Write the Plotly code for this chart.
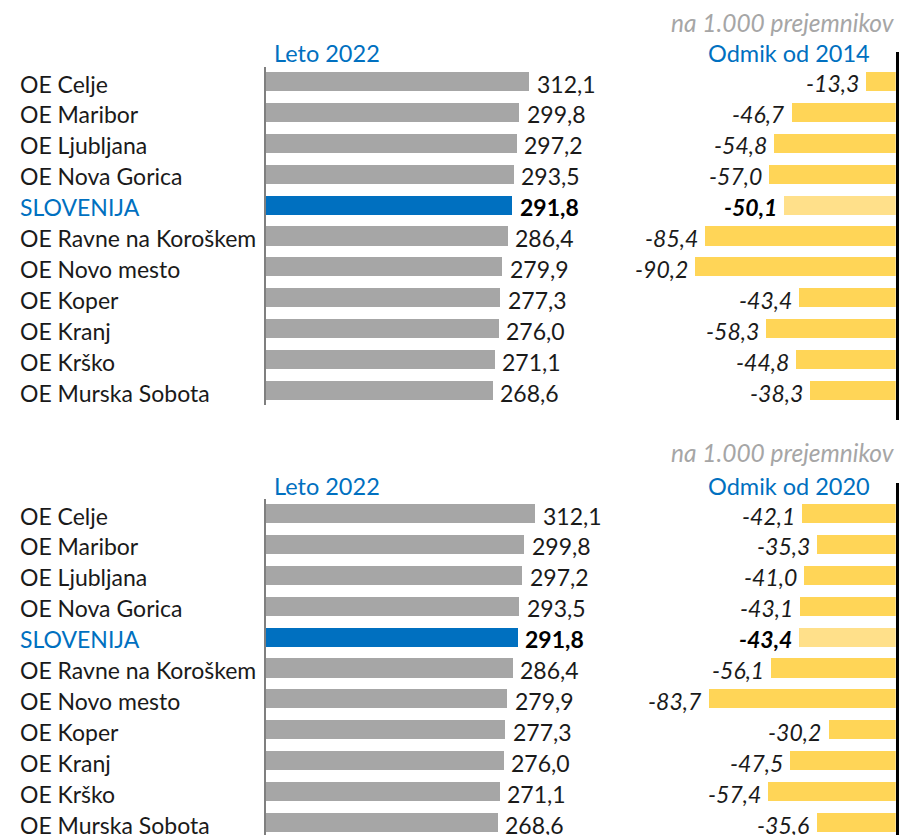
import plotly.graph_objects as go

# ---- data -------------------------------------------------------------
regions = [
    "OE Celje", "OE Maribor", "OE Ljubljana", "OE Nova Gorica", "SLOVENIJA",
    "OE Ravne na Koroškem", "OE Novo mesto", "OE Koper", "OE Kranj",
    "OE Krško", "OE Murska Sobota",
]
rate_2022 = [312.1, 299.8, 297.2, 293.5, 291.8, 286.4, 279.9, 277.3, 276.0, 271.1, 268.6]
change_since_2014 = [-13.3, -46.7, -54.8, -57.0, -50.1, -85.4, -90.2, -43.4, -58.3, -44.8, -38.3]
change_since_2020 = [-42.1, -35.3, -41.0, -43.1, -43.4, -56.1, -83.7, -30.2, -47.5, -57.4, -35.6]

year_title = "Leto 2022"
unit_note = "na 1.000 prejemnikov"
panel_titles = ["Odmik od 2014", "Odmik od 2020"]
total_label = "SLOVENIJA"

# ---- styling ----------------------------------------------------------
W, H = 899, 835
FONT = "Lato"
FS = 23
FS_TITLE = 23.5
FS_NOTE = 24.5
BLUE = "#0070C0"
GREY_BAR = "#A6A6A6"
YELLOW = "#FFD557"
YELLOW_LIGHT = "#FFE08A"
TEXT = "#1a1a1a"


def fmt(v):
    return f"{v:.1f}".replace(".", ",")


def xdom(p0, p1):
    return [p0 / W, p1 / W]


def clamp_px(ptop, pbot):
    return max(0.0, ptop), min(float(H), pbot)


def ydom(ptop, pbot):
    ptop, pbot = clamp_px(ptop, pbot)
    return [1 - pbot / H, 1 - ptop / H]


def yrange(ptop, pbot, c0, pitch):
    # reversed so the first region sits on top
    ptop, pbot = clamp_px(ptop, pbot)
    return [(pbot - c0) / pitch, (ptop - c0) / pitch]


idx = list(range(len(regions)))
is_total = [r == total_label for r in regions]

fig = go.Figure()
annotations = []

PITCH = 30.9
panels = [
    dict(c0=81.5, dev=change_since_2014, title=panel_titles[0], ty=52.5, ny=22,
         left=(67, 405), right=(52, 420), lscale=0.844, rscale=2.23),
    dict(c0=513.5, dev=change_since_2020, title=panel_titles[1], ty=485.5, ny=452,
         left=(499, 850), right=(483, 850), lscale=0.862, rscale=2.23),
]

X0_LEFT = 265.5
X_RIGHT = 895.7
LEFT_MAX = 350
RIGHT_MIN = -130

layout_axes = {}
for k, p in enumerate(panels):
    nl = 2 * k + 1
    nr = 2 * k + 2
    xl_name = "x" if nl == 1 else f"x{nl}"
    yl_name = "y" if nl == 1 else f"y{nl}"
    xr_name = f"x{nr}"
    yr_name = f"y{nr}"

    # left: level in 2022
    fig.add_trace(go.Bar(
        x=rate_2022, y=idx, orientation="h", width=0.62,
        marker=dict(color=[BLUE if t else GREY_BAR for t in is_total], line=dict(width=0)),
        xaxis=xl_name, yaxis=yl_name, hoverinfo="skip",
    ))
    # right: change against the base year
    fig.add_trace(go.Bar(
        x=p["dev"], y=idx, orientation="h", width=0.62,
        marker=dict(color=[YELLOW_LIGHT if t else YELLOW for t in is_total], line=dict(width=0)),
        xaxis=xr_name, yaxis=yr_name, hoverinfo="skip",
    ))

    lx1 = X0_LEFT + LEFT_MAX * p["lscale"]
    rx0 = X_RIGHT + RIGHT_MIN * p["rscale"]
    layout_axes[f"xaxis{nl if nl > 1 else ''}"] = dict(
        domain=xdom(X0_LEFT, lx1), range=[0, LEFT_MAX], visible=False, anchor=yl_name)
    layout_axes[f"yaxis{nl if nl > 1 else ''}"] = dict(
        domain=ydom(*p["left"]), range=yrange(*p["left"], p["c0"], PITCH),
        anchor=xl_name, showline=True, linecolor="#7f7f7f", linewidth=2,
        showticklabels=False, showgrid=False, zeroline=False, ticks="")
    layout_axes[f"xaxis{nr}"] = dict(
        domain=xdom(rx0, X_RIGHT), range=[RIGHT_MIN, 0], visible=False, anchor=yr_name)
    layout_axes[f"yaxis{nr}"] = dict(
        domain=ydom(*p["right"]), range=yrange(*p["right"], p["c0"], PITCH),
        anchor=xr_name, side="right", showline=True, linecolor="#000000", linewidth=2.5,
        showticklabels=False, showgrid=False, zeroline=False, ticks="")

    # region names
    for i, name in enumerate(regions):
        annotations.append(dict(
            text=name, x=18 / W, xref="paper", y=i, yref=yl_name,
            xanchor="left", yanchor="middle", yshift=-2, showarrow=False,
            font=dict(family=FONT, size=FS, color=BLUE if is_total[i] else TEXT)))
    # value labels
    for i, v in enumerate(rate_2022):
        txt = f"<b>{fmt(v)}</b>" if is_total[i] else fmt(v)
        annotations.append(dict(
            text=txt, x=v, xref=xl_name, y=i, yref=yl_name,
            xanchor="left", yanchor="middle", xshift=6, yshift=-2, showarrow=False,
            font=dict(family=FONT, size=FS, color="#000000" if is_total[i] else TEXT)))
    for i, v in enumerate(p["dev"]):
        txt = f"<b><i>{fmt(v)}</i></b>" if is_total[i] else f"<i>{fmt(v)}</i>"
        annotations.append(dict(
            text=txt, x=v, xref=xr_name, y=i, yref=yr_name,
            xanchor="right", yanchor="middle", xshift=-5, yshift=-2, showarrow=False,
            font=dict(family=FONT, size=FS, color="#000000" if is_total[i] else TEXT)))

    # headings
    annotations.append(dict(
        text=year_title, x=272 / W, xref="paper", y=1 - p["ty"] / H, yref="paper",
        xanchor="left", yanchor="middle", showarrow=False,
        font=dict(family=FONT, size=FS_TITLE, color=BLUE)))
    annotations.append(dict(
        text=p["title"], x=872 / W, xref="paper", y=1 - p["ty"] / H, yref="paper",
        xanchor="right", yanchor="middle", showarrow=False,
        font=dict(family=FONT, size=FS_TITLE, color=BLUE)))
    annotations.append(dict(
        text=f"<i>{unit_note}</i>", x=897 / W, xref="paper", y=1 - p["ny"] / H, yref="paper",
        xanchor="right", yanchor="middle", showarrow=False,
        font=dict(family=FONT, size=FS_NOTE, color="#A6A6A6")))

fig.update_layout(
    width=W, height=H,
    margin=dict(l=0, r=0, t=0, b=0),
    paper_bgcolor="white", plot_bgcolor="white",
    showlegend=False, bargap=0,
    annotations=annotations,
    **layout_axes,
)

fig.write_html("out.html")
